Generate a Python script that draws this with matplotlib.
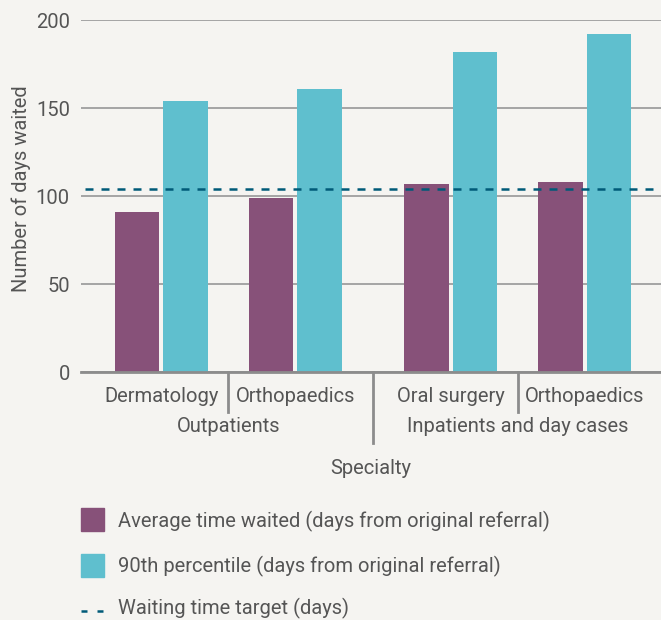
import matplotlib
matplotlib.use('Agg')
import matplotlib.pyplot as plt
import numpy as np
from matplotlib.patches import Rectangle
from matplotlib.lines import Line2D

# Chart data
specialties = ['Dermatology', 'Orthopaedics', 'Oral surgery', 'Orthopaedics']
groups = ['Outpatients', 'Inpatients and day cases']
group_of = [0, 0, 1, 1]
average_wait = [91, 99, 107, 108]
percentile_90 = [154, 161, 182, 192]
target_days = 104
y_ticks = [0, 50, 100, 150, 200]

# Styling
bg = '#f5f4f1'
purple = '#875179'
cyan = '#5fbfce'
target_col = '#005a78'
grid_col = '#9e9e9e'
text_col = '#555555'
fs = 14.5

plt.rcParams['font.family'] = ['Roboto', 'DejaVu Sans']
plt.rcParams['font.size'] = fs

fig = plt.figure(figsize=(6.61, 6.2), dpi=100, facecolor=bg)
W, H = 661, 620
ax = fig.add_axes([81 / W, 1 - 372 / H, (661 - 81) / W, (372 - 20) / H])
ax.set_facecolor(bg)

# group centres, with extra gap between the two groups
group_gap = 0.16
x = np.arange(len(specialties)) + np.array(group_of) * group_gap
bw = 0.33
ax.bar(x - bw / 2 - 0.015, average_wait, bw, color=purple, zorder=3)
ax.bar(x + bw / 2 + 0.015, percentile_90, bw, color=cyan, zorder=3)
ax.axhline(target_days, xmin=4 / 580, xmax=1, color=target_col, lw=1.8,
           linestyle=(0, (3.2, 3.2)), zorder=4)

ax.set_ylim(0, 200)
ax.set_xlim(x[0] - 0.6, x[-1] + 0.57)
ax.set_yticks(y_ticks)
ax.yaxis.grid(True, color=grid_col, lw=1.3, zorder=0)
ax.tick_params(axis='y', length=0, pad=8, colors=text_col, labelsize=fs)
ax.set_xticks([])
for s in ['top', 'right', 'left']:
    ax.spines[s].set_visible(False)
ax.spines['bottom'].set_color('#8c8c8c')
ax.spines['bottom'].set_linewidth(2)
ax.spines['bottom'].set_zorder(5)

ax.set_ylabel('Number of days waited', color=text_col, fontsize=fs)
ax.yaxis.set_label_coords(-50 / 580, 0.52)

# category labels and separators below axis
trans = ax.get_xaxis_transform()
for xi, name in zip(x, specialties):
    ax.text(xi, -25 / 352, name, transform=trans, ha='center', va='center',
            color=text_col, fontsize=fs, clip_on=False)
for i in range(len(x) - 1):
    mid = (x[i] + x[i + 1]) / 2
    bottom = -71 / 352 if group_of[i] != group_of[i + 1] else -40 / 352
    ax.add_line(Line2D([mid, mid], [0, bottom], transform=trans, color='#8c8c8c',
                       lw=2, clip_on=False))
for g, gname in enumerate(groups):
    members = [xi for xi, go in zip(x, group_of) if go == g]
    ax.text(np.mean(members), -55 / 352, gname, transform=trans, ha='center',
            va='center', color=text_col, fontsize=fs, clip_on=False)

ax.text(0.5, -96 / 352, 'Specialty', transform=ax.transAxes, ha='center',
        va='center', color=text_col, fontsize=fs)

# legend drawn manually in figure pixels
def fx(px):
    return px / W

def fy(py):
    return 1 - py / H

fig.patches.append(Rectangle((fx(81), fy(531)), 23 / W, 23 / H, color=purple,
                             transform=fig.transFigure))
fig.text(fx(118), fy(521), 'Average time waited (days from original referral)',
         color=text_col, fontsize=fs, va='center')
fig.patches.append(Rectangle((fx(81), fy(577)), 23 / W, 23 / H, color=cyan,
                             transform=fig.transFigure))
fig.text(fx(118), fy(566), '90th percentile (days from original referral)',
         color=text_col, fontsize=fs, va='center')
fig.lines.append(Line2D([fx(81), fx(104)], [fy(611), fy(611)], color=target_col,
                        lw=1.8, linestyle=(0, (2.4, 4.0)), transform=fig.transFigure))
fig.text(fx(118), fy(608), 'Waiting time target (days)', color=text_col,
         fontsize=fs, va='center')

fig.savefig('out.png', dpi=100, facecolor=bg)
